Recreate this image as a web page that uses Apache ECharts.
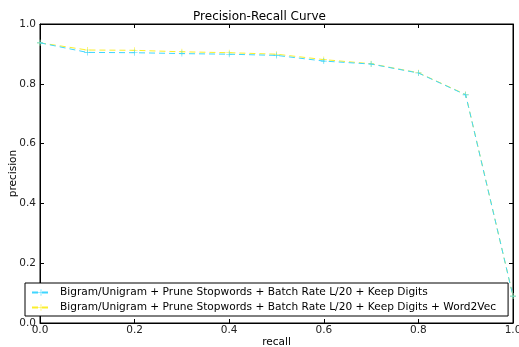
<!DOCTYPE html>
<html>
<head>
<meta charset="utf-8">
<script src="https://cdn.jsdelivr.net/npm/echarts@6/dist/echarts.min.js"></script>
<style>
  html, body { margin: 0; padding: 0; background: #fff; }
  #chart { width: 519px; height: 347px; }
</style>
</head>
<body>
<div id="chart"></div>
<script>
// Recall thresholds and precision at each threshold for the two models
const recall = [0.0, 0.1, 0.2, 0.3, 0.4, 0.5, 0.6, 0.7, 0.8, 0.9, 1.0];
const precisionBase = [0.937, 0.905, 0.904, 0.901, 0.899, 0.895, 0.876, 0.866, 0.836, 0.763, 0.09];
const precisionW2V = [0.937, 0.913, 0.912, 0.907, 0.904, 0.899, 0.881, 0.867, 0.837, 0.764, 0.09];
const seriesNames = [
  'Bigram/Unigram + Prune Stopwords + Batch Rate L/20 + Keep Digits',
  'Bigram/Unigram + Prune Stopwords + Batch Rate L/20 + Keep Digits + Word2Vec'
];

const colors = ['#3fd6ff', '#fbef2c'];
const font = 'DejaVu Sans';
const plus = 'path://M4.5,0h1v4.5h4.5v1h-4.5v4.5h-1v-4.5h-4.5v-1h4.5z';

const pairs = (ys) => recall.map((r, i) => [r, ys[i]]);

const axisCommon = {
  min: 0, max: 1, interval: 0.2,
  axisLine: { show: true, onZero: false, lineStyle: { color: '#000', width: 1 } },
  axisTick: { show: true, inside: true, length: 4, lineStyle: { color: '#000' } },
  splitLine: { show: false },
  axisLabel: { color: '#222', fontFamily: font, fontSize: 10.5,
               formatter: v => v.toFixed(1) }
};

const chart = echarts.init(document.getElementById('chart'), null, { renderer: 'canvas' });
chart.setOption({
  animation: false,
  backgroundColor: '#fff',
  title: {
    text: 'Precision-Recall Curve', left: 'center', top: 6,
    textStyle: { fontFamily: font, fontSize: 12, fontWeight: 'normal', color: '#000' }
  },
  grid: { left: 40, right: 6, top: 24, bottom: 24, containLabel: false,
          outerBoundsMode: 'none',
          show: true, borderColor: '#000', borderWidth: 1 },
  legend: {
    orient: 'vertical', left: 25, top: 283,
    width: 483,
    padding: [4, 12, 3, 6], itemGap: 4,
    itemWidth: 18, itemHeight: 8,
    backgroundColor: '#fff', borderColor: '#000', borderWidth: 1,
    textStyle: { fontFamily: font, fontSize: 10.6, color: '#000', padding: [0, 0, 0, 5] },
    data: seriesNames
  },
  xAxis: [
    Object.assign({}, axisCommon, {
      type: 'value', position: 'bottom',
      name: 'recall', nameLocation: 'middle', nameGap: 14, nameMoveOverlap: false,
      nameTextStyle: { fontFamily: font, fontSize: 10.5, color: '#000' },
      axisLabel: Object.assign({}, axisCommon.axisLabel, { margin: 2 })
    }),
    Object.assign({}, axisCommon, {
      type: 'value', position: 'top', axisLabel: { show: false }
    })
  ],
  yAxis: [
    Object.assign({}, axisCommon, {
      type: 'value', position: 'left',
      name: 'precision', nameLocation: 'middle', nameGap: 21, nameMoveOverlap: false,
      nameTextStyle: { fontFamily: font, fontSize: 10.5, color: '#000' },
      axisLabel: Object.assign({}, axisCommon.axisLabel, { margin: 4 })
    }),
    Object.assign({}, axisCommon, {
      type: 'value', position: 'right', axisLabel: { show: false }
    })
  ],
  series: [precisionBase, precisionW2V].map((ys, i) => ({
    name: seriesNames[i],
    type: 'line',
    data: pairs(ys),
    symbol: plus, symbolSize: 6,
    showSymbol: true,
    itemStyle: { color: colors[i] },
    lineStyle: { color: colors[i], width: 1, type: [6, 4] },
    z: i === 0 ? 3 : 2
  }))
});
</script>
</body>
</html>
